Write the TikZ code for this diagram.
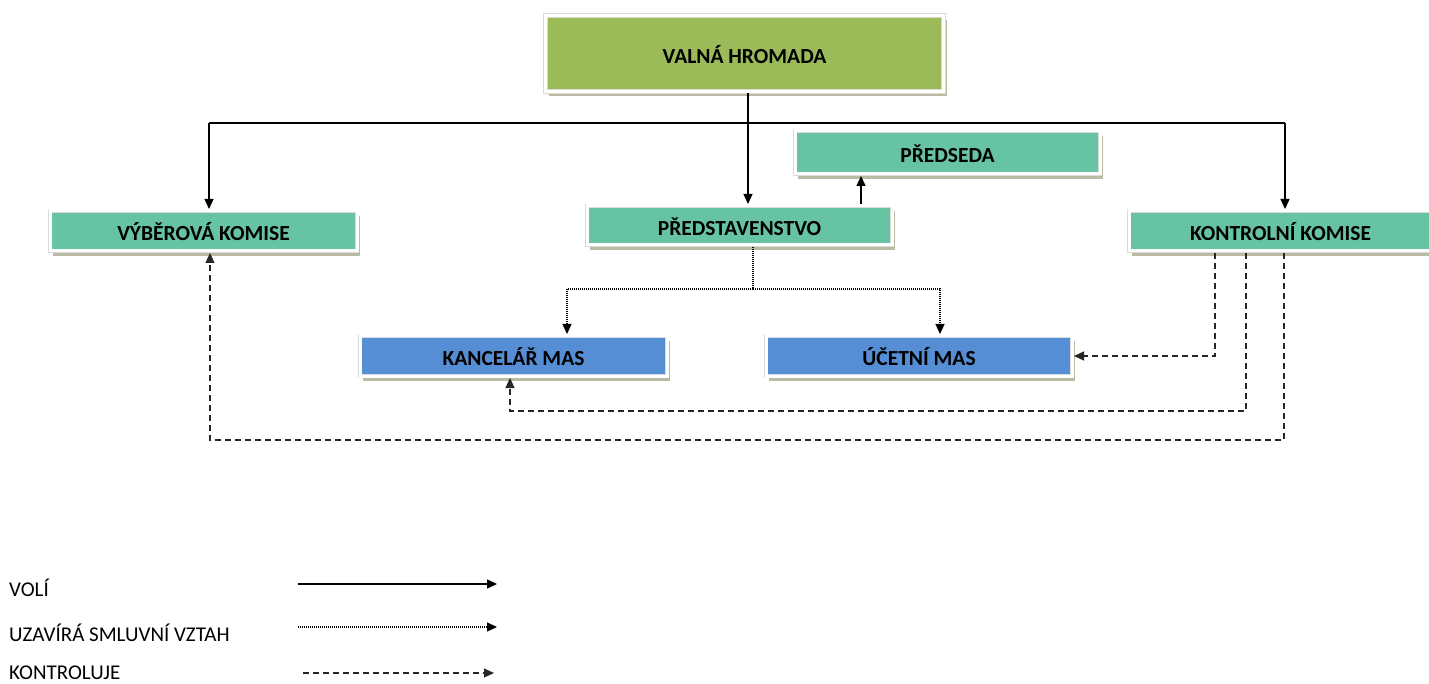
\documentclass[tikz,border=0pt]{standalone}
\usepackage{fontspec}
\setmainfont{Carlito}
\usetikzlibrary{arrows.meta,shadows,calc}
\definecolor{vhgreen}{HTML}{9BBB59}
\definecolor{tealbox}{HTML}{66C4A3}
\definecolor{bluebox}{HTML}{558ED5}
\definecolor{shadowc}{HTML}{B9BBA3}
\begin{document}
\begin{tikzpicture}[x=1pt,y=-1pt,
  orgbox/.style={draw=black!14, double=white, double distance=3pt, line width=0.6pt,
    inner sep=0pt, outer sep=2pt,
    font=\bfseries\fontsize{21.5}{25}\selectfont,
    text height=20pt, text depth=0pt,
    drop shadow={shadow xshift=3pt, shadow yshift=-5pt, fill=shadowc, opacity=1}},
  tip/.style={-{Triangle[length=10pt,width=9pt]}},
  voli/.style={tip, line width=1.3pt, black},
  smluv/.style={tip, line width=1.2pt, black, dash pattern=on 1pt off 1pt},
  kontr/.style={tip, line width=1.2pt, black!85, dash pattern=on 6pt off 4pt},
  plainline/.style={line width=1.3pt, black},
  legtext/.style={anchor=west, inner sep=0pt, font=\fontsize{21}{24}\selectfont}
]
\useasboundingbox (0,0) rectangle (1429,684);

% boxes
\node[orgbox, fill=vhgreen, minimum width=398pt, minimum height=76pt] (vh) at (744.5,53.5) {VALNÁ HROMADA};
\node[orgbox, fill=tealbox, minimum width=305pt, minimum height=43pt] (pd) at (947.5,152.5) {PŘEDSEDA};
\node[orgbox, fill=tealbox, minimum width=305pt, minimum height=39pt] (pr) at (739.5,225.5) {PŘEDSTAVENSTVO};
\node[orgbox, fill=tealbox, minimum width=307pt, minimum height=40pt] (vk) at (203.5,231) {VÝBĚROVÁ KOMISE};
\node[orgbox, fill=tealbox, minimum width=303pt, minimum height=40pt] (kk) at (1280.5,231) {KONTROLNÍ KOMISE};
\node[orgbox, fill=bluebox, minimum width=307pt, minimum height=40pt] (ka) at (513.5,356) {KANCELÁŘ MAS};
\node[orgbox, fill=bluebox, minimum width=306pt, minimum height=40pt] (uc) at (919,356) {ÚČETNÍ MAS};

% voli connectors
\coordinate (jl) at (209,123);
\coordinate (jr) at (1285,123);
\draw[voli] (vh.south -| 748,0) -- (748,0 |- pr.north);
\draw[plainline] (jl) -- (jr);
\draw[voli] (jl) -- (jl |- vk.north);
\draw[voli] (jr) -- (jr |- kk.north);
\draw[voli] (pr.north -| 861,0) -- (861,0 |- pd.south);

% smluvni vztah
\coordinate (d0) at (753,289);
\draw[smluv] (pr.south -| d0) -- (d0) -| (567,0 |- ka.north);
\draw[smluv] (d0) -| (940,0 |- uc.north);

% kontroluje
\coordinate (k2) at (510,411);
\coordinate (k3) at (210,440);
\draw[kontr] (kk.south -| 1215,0) |- (uc.east);
\draw[kontr] (kk.south -| 1246,0) |- (k2) -- (k2 |- ka.south);
\draw[kontr] (kk.south -| 1284,0) |- (k3) -- (k3 |- vk.south);

% legend
\node[legtext] (l1) at (9,588) {VOLÍ};
\node[legtext] (l2) at (9,633) {UZAVÍRÁ SMLUVNÍ VZTAH};
\node[legtext] (l3) at (9,673) {KONTROLUJE};
\coordinate (a1) at (298,584); \coordinate (b1) at (497,584);
\coordinate (a2) at (298,627); \coordinate (b2) at (497,627);
\coordinate (a3) at (303,673); \coordinate (b3) at (494,673);
\draw[voli] (a1) -- (b1);
\draw[smluv] (a2) -- (b2);
\draw[kontr] (a3) -- (b3);
\end{tikzpicture}
\end{document}
